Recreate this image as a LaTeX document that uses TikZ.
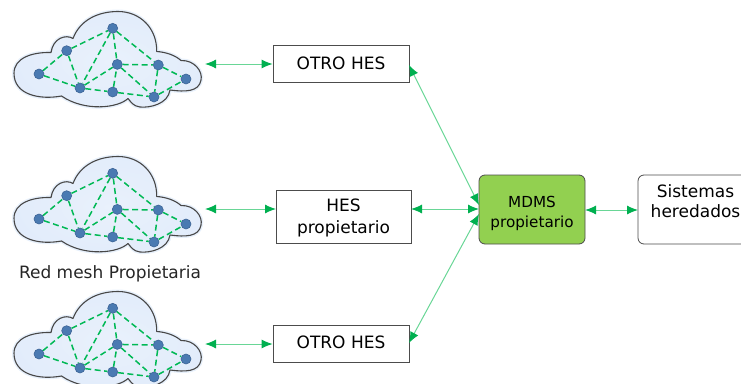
\documentclass[tikz,border=0pt]{standalone}
\usepackage{fontspec}
\setmainfont{DejaVu Sans}
\usetikzlibrary{arrows.meta}
\definecolor{tipgreen}{RGB}{0,176,80}
\definecolor{linegreen}{RGB}{105,214,150}
\definecolor{meshgreen}{RGB}{0,185,85}
\definecolor{nodeblue}{RGB}{74,122,178}
\definecolor{nodeedge}{RGB}{60,100,150}
\definecolor{cloudfill}{RGB}{221,233,250}
\definecolor{mdmsgreen}{RGB}{146,208,80}
\tikzset{
  x=1pt,y=-1pt,
  meshnode/.style={circle,fill=nodeblue,draw=nodeedge,line width=.6pt,minimum size=10pt,inner sep=0pt},
  meshlink/.style={draw=meshgreen,line width=1.5pt,dash pattern=on 6pt off 3.5pt},
  link/.style={draw=linegreen,line width=1pt,{Latex[length=11pt,width=9pt,color=tipgreen]}-{Latex[length=11pt,width=9pt,color=tipgreen]}},
  boxnode/.style={draw=black!70,line width=.8pt,fill=white,inner sep=0pt,align=center,font=\fontsize{17}{21}\selectfont},
  roundbox/.style={boxnode,rounded corners=6pt,font=\fontsize{15.2}{18}\selectfont},
  meshcloud/.pic={
    \def\cloudshape{(14,73.3) .. controls (14,58) and (32,52) .. (51,52.5)
      .. controls (53,38) and (66,34) .. (73,38.5)
      .. controls (80,20) and (98,11.5) .. (118,11.5)
      .. controls (140,11.5) and (157,28) .. (156.7,51.5)
      .. controls (165,52) and (175,55) .. (181,60.5)
      .. controls (195,60) and (203,72) .. (201,80)
      .. controls (199,92) and (185,92) .. (170,90)
      .. controls (168,104) and (150,108) .. (140,107)
      .. controls (133,106) and (131,102) .. (128,98.5)
      .. controls (118,108) and (85,112) .. (61.5,96)
      .. controls (40,100) and (14,95) .. (14,73.3) -- cycle}
    \draw[cloudfill!70!white,line width=4pt,line join=round] \cloudshape;
    \shade[inner color=cloudfill!65!white,outer color=cloudfill!85!white,draw=black!72,line width=1.1pt,line join=round] \cloudshape;
    \node[meshnode] (a) at (39,74) {};
    \node[meshnode] (b) at (66.7,50.7) {};
    \node[meshnode] (c) at (112.7,28.3) {};
    \node[meshnode] (d) at (117.3,64.4) {};
    \node[meshnode] (e) at (158.3,65) {};
    \node[meshnode] (f) at (186,79) {};
    \node[meshnode] (g) at (80,88) {};
    \node[meshnode] (h) at (112.7,92) {};
    \node[meshnode] (i) at (154,97) {};
    \foreach \p/\q in {a/b,b/c,c/d,c/g,c/e,b/g,a/g,g/d,g/h,h/d,h/i,d/e,d/i,e/i,e/f,i/f}
      \path[meshlink] (\meshprefix\p) -- (\meshprefix\q);
    \coordinate (port) at (205,64);
  },
}
\def\meshprefix{\pgfkeysvalueof{/tikz/name prefix}}
\begin{document}
\begin{tikzpicture}
\useasboundingbox (0,0) rectangle (741,383);
\pic (ca) at (0,0) {meshcloud};
\pic (cb) at (0,145) {meshcloud};
\pic (cc) at (0,280) {meshcloud};
\node[boxnode,minimum width=136pt,minimum height=37pt] (otroa) at (341,63.5) {\raisebox{1.5pt}{OTRO HES}};
\node[boxnode,minimum width=135pt,minimum height=53pt] (hes) at (343.5,216.5) {\rule{0pt}{16pt}HES\\[1pt]propietario};
\node[boxnode,minimum width=136pt,minimum height=37pt] (otrob) at (341,343.5) {\raisebox{2.5pt}{OTRO HES}};
\node[roundbox,fill=mdmsgreen,minimum width=106pt,minimum height=69pt] (mdms) at (532,209.5) {\rule{0pt}{19pt}MDMS\\[2pt]propietario};
\node[roundbox,minimum width=112pt,minimum height=69pt] (sis) at (694,209.5) {};
\node[font=\fontsize{17}{20}\selectfont,align=center,inner sep=0pt] (sistxt) at (695.5,201) {Sistemas\\heredados};
\node[font=\fontsize{17}{21}\selectfont,text=black!85,inner sep=0pt] (redlabel) at (110,273.5) {Red mesh Propietaria};
\coordinate (ma) at (479,205);
\coordinate (mb) at (479,209);
\coordinate (mc) at (479,214);
\coordinate (oa) at (409,65);
\coordinate (ob) at (409,343);
\coordinate (ha) at (411,209);
\coordinate (sa) at (638,210);
\coordinate (md) at (585,210);
\draw[link] (caport) -- (otroa.west |- caport);
\draw[link] (cbport) -- (276,209);
\draw[link] (ccport) -- (otrob.west |- ccport);
\draw[link] (oa) -- (ma);
\draw[link] (ha) -- (mb);
\draw[link] (ob) -- (mc);
\draw[link] (md) -- (sa);
\end{tikzpicture}
\end{document}
